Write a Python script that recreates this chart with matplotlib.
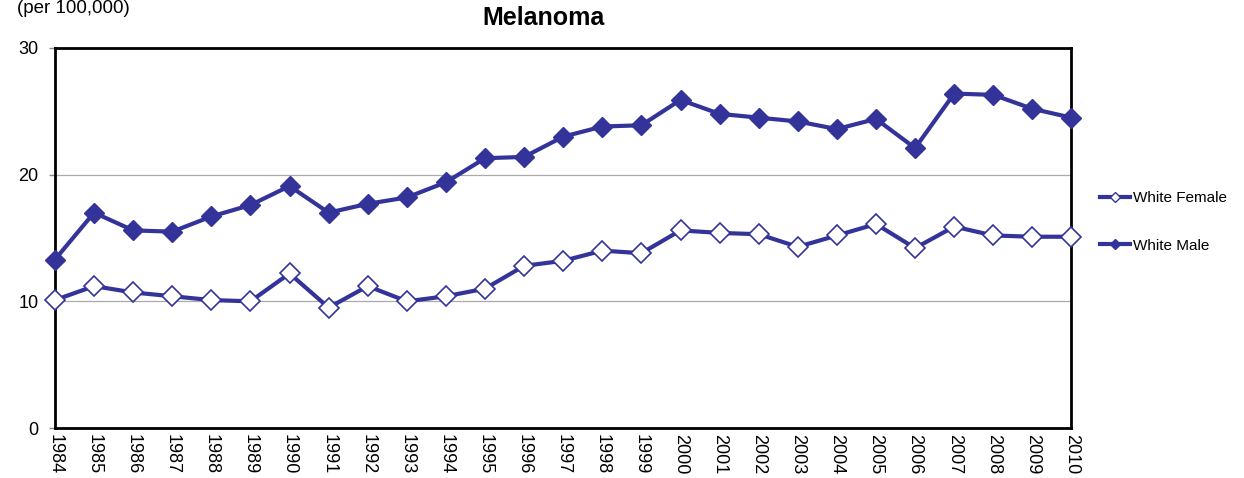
import matplotlib.pyplot as plt
from matplotlib.lines import Line2D

years = list(range(1984, 2011))
white_male = [13.3, 17.0, 15.6, 15.5, 16.7, 17.6, 19.1, 17.0, 17.7, 18.2, 19.4, 21.3, 21.4,
              23.0, 23.8, 23.9, 25.9, 24.8, 24.5, 24.2, 23.6, 24.4, 22.1, 26.4, 26.3, 25.2, 24.5]
white_female = [10.1, 11.2, 10.7, 10.4, 10.1, 10.0, 12.2, 9.5, 11.2, 10.0, 10.4, 11.0, 12.8,
                13.2, 14.0, 13.8, 15.6, 15.4, 15.3, 14.3, 15.2, 16.1, 14.2, 15.9, 15.2, 15.1, 15.1]

BLUE = "#333399"
plt.rcParams["font.family"] = ["Liberation Sans", "DejaVu Sans"]

fig = plt.figure(figsize=(12.44, 4.78), dpi=100)
ax = fig.add_axes([0.0442, 0.1046, 0.8171, 0.795])

ax.plot(years, white_female, color=BLUE, lw=3, marker="D", ms=10.5,
        mfc="white", mec=BLUE, mew=1.2, zorder=5, clip_on=False)
ax.plot(years, white_male, color=BLUE, lw=3, marker="D", ms=10,
        mfc=BLUE, mec=BLUE, zorder=5, clip_on=False)

ax.set_xlim(1984, 2010)
ax.set_ylim(0, 30)
ax.set_yticks([0, 10, 20, 30])
ax.set_xticks(years)
ax.set_xticklabels([str(y) for y in years], rotation=270, fontsize=13)
ax.tick_params(axis="y", labelsize=13, length=4, width=1, color="#888888", pad=8)
ax.tick_params(axis="x", length=0, pad=4)
ax.grid(axis="y", color="#aaaaaa", lw=0.9)
ax.set_axisbelow(True)
for s in ax.spines.values():
    s.set_linewidth(2)
    s.set_color("black")
    s.set_zorder(4)

fig.text(543 / 1244, 1 - 18 / 478, "Melanoma", fontsize=18, fontweight="bold",
         ha="center", va="center")
fig.text(17 / 1244, 1 - 13 / 478, "(per 100,000)", fontsize=13.5, ha="left", va="baseline")

handles = [
    Line2D([], [], color=BLUE, lw=3, marker="D", ms=5, mfc="white", mec=BLUE, mew=1),
    Line2D([], [], color=BLUE, lw=3, marker="D", ms=5, mfc=BLUE, mec=BLUE),
]
fig.legend(handles, ["White Female", "White Male"], loc="center left",
           bbox_to_anchor=(0.873, 0.536), frameon=False, fontsize=11,
           labelspacing=2.2, handlelength=2.0, handletextpad=0.15)

fig.savefig("out.png", dpi=100)
